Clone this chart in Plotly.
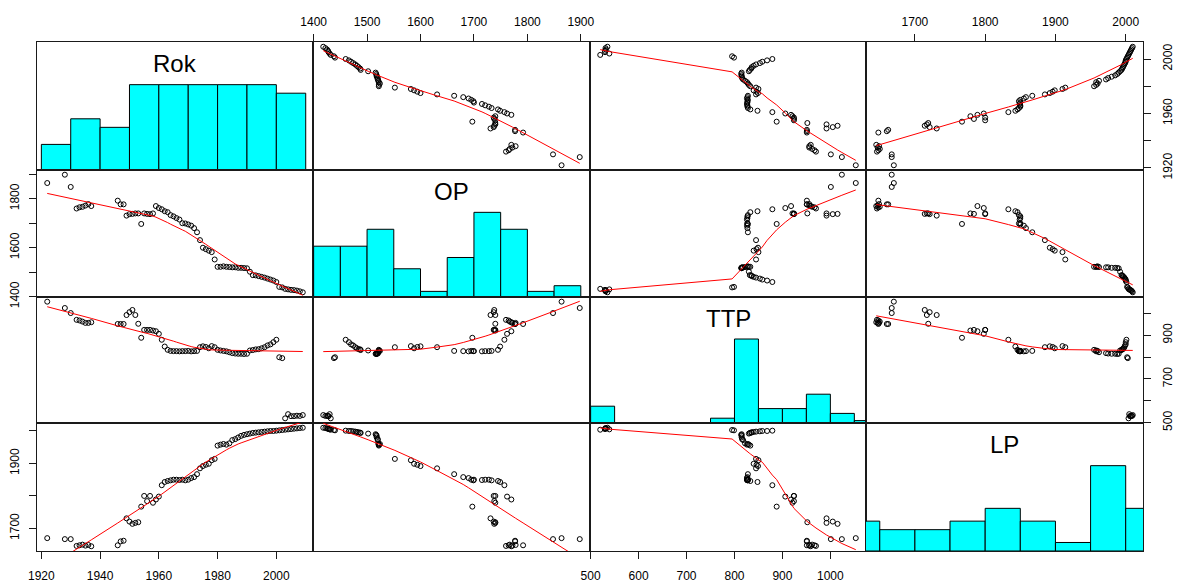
import numpy as np
import plotly.graph_objects as go

# ---------------- data ----------------
rok = [1922, 1928, 1930, 1932, 1933, 1934, 1935, 1936, 1937,
       1946, 1947, 1948, 1949, 1950, 1951, 1952, 1953, 1954, 1955, 1956, 1957, 1958, 1959,
       1960, 1961, 1962, 1963, 1964, 1965, 1966, 1967, 1968, 1969,
       1970, 1971, 1972, 1973, 1974, 1975, 1976, 1977, 1978, 1979,
       1980, 1981, 1982, 1983, 1984, 1985, 1986, 1987, 1988, 1989,
       1990, 1991, 1992, 1993, 1994, 1995, 1996, 1997, 1998, 1999,
       2000, 2001, 2002, 2003, 2004, 2005, 2006, 2007, 2008, 2009]
op = [1864, 1898, 1848, 1760, 1765, 1767, 1772, 1778, 1770,
      1792, 1777, 1777, 1731, 1737, 1738, 1740, 1740, 1697, 1740, 1738, 1737, 1740, 1770,
      1762, 1757, 1749, 1745, 1733, 1728, 1721, 1715, 1700, 1699,
      1695, 1690, 1680, 1663, 1631, 1600, 1594, 1588, 1582, 1552,
      1522, 1522, 1524, 1522, 1521, 1520, 1520, 1518, 1518, 1517,
      1516, 1502, 1488, 1487, 1484, 1481, 1478, 1474, 1470, 1466,
      1460, 1440, 1438, 1432, 1430, 1428, 1427, 1425, 1422, 1418]
ttp = [1053, 1024, 1001, 970, 967, 962, 956, 956, 959,
       951, 951, 951, 992, 1005, 1015, 992, 952, 888, 924, 924, 924, 921, 918,
       906, 879, 848, 833, 828, 827, 827, 826, 827, 827,
       828, 826, 827, 828, 845, 849, 846, 840, 850, 845,
       833, 830, 828, 826, 822, 818, 816, 815, 815, 814,
       815, 830, 832, 835, 836, 840, 845, 853, 858, 868,
       879, 799, 795, 520, 539, 530, 530, 532, 531, 535]
lp = [1670, 1667, 1667, 1646, 1648, 1650, 1647, 1649, 1645,
      1648, 1660, 1662, 1731, 1721, 1714, 1717, 1719, 1767, 1800, 1784, 1800, 1779, 1789,
      1798, 1833, 1843, 1846, 1848, 1850, 1850, 1849, 1850, 1848,
      1850, 1855, 1858, 1867, 1885, 1892, 1896, 1899, 1910, 1914,
      1955, 1958, 1960, 1958, 1962, 1972, 1975, 1980, 1985, 1988,
      1990, 1992, 1994, 1995, 1996, 1997, 1998, 1999, 2000, 2000,
      2001, 2002, 2003, 2004, 2005, 2006, 2007, 2008, 2009, 2010]

var_names = ["Rok", "OP", "TTP", "LP"]

# histogram breaks (R hist, right-closed bins)
rok_breaks = [1920, 1930, 1940, 1950, 1960, 1970, 1980, 1990, 2000, 2010]
op_breaks = [1400, 1450, 1500, 1550, 1600, 1650, 1700, 1750, 1800, 1850, 1900]
ttp_breaks = [500, 550, 600, 650, 700, 750, 800, 850, 900, 950, 1000, 1050, 1100]
lp_breaks = [1600, 1650, 1700, 1750, 1800, 1850, 1900, 1950, 2000, 2050]

# axis ticks and labels (labels on vertical axes are thinned as in R)
rok_ticks = [1920, 1940, 1960, 1980, 2000]
op_ticks = [1400, 1500, 1600, 1700, 1800, 1900]
ttp_ticks = [500, 600, 700, 800, 900, 1000]
lp_ticks = [1700, 1800, 1900, 2000]
rok_vlabels = [1920, 1960, 2000]
op_vlabels = [1400, 1600, 1800]
ttp_vlabels = [500, 700, 900]
lp_vlabels = [1700, 1900]

data = [np.array(rok, float), np.array(op, float), np.array(ttp, float), np.array(lp, float)]
breaks = [rok_breaks, op_breaks, ttp_breaks, lp_breaks]
ticks = [rok_ticks, op_ticks, ttp_ticks, lp_ticks]
vlabels = [rok_vlabels, op_vlabels, ttp_vlabels, lp_vlabels]


# ---------------- R lowess port ----------------
def lowess(xv, yv, f=2 / 3, nsteps=3):
    xv = np.asarray(xv, float)
    yv = np.asarray(yv, float)
    o = np.argsort(xv, kind="mergesort")
    xs_sorted = xv[o]
    n = len(xv)
    X = np.concatenate([[0.0], xs_sorted])
    Y = np.concatenate([[0.0], yv[o]])
    delta = 0.01 * (X[n] - X[1])
    ns = max(2, min(n, int(f * n + 1e-7)))
    ys = np.zeros(n + 1)
    rw = np.ones(n + 1)
    res = np.zeros(n + 1)

    def lowest(xs, nleft, nright, userw):
        rng = X[n] - X[1]
        h = max(xs - X[nleft], X[nright] - xs)
        h9 = 0.999 * h
        h1 = 0.001 * h
        w = np.zeros(n + 1)
        a = 0.0
        j = nleft
        while j <= n:
            w[j] = 0.0
            r = abs(X[j] - xs)
            if r <= h9:
                if r <= h1:
                    w[j] = 1.0
                else:
                    w[j] = (1 - (r / h) ** 3) ** 3
                if userw:
                    w[j] *= rw[j]
                a += w[j]
            elif X[j] > xs:
                break
            j += 1
        nrt = j - 1
        if a <= 0:
            return None
        sl = slice(nleft, nrt + 1)
        w[sl] /= a
        if h > 0:
            a = np.sum(w[sl] * X[sl])
            b = xs - a
            c = np.sum(w[sl] * (X[sl] - a) ** 2)
            if np.sqrt(c) > 0.001 * rng:
                b /= c
                w[sl] *= (b * (X[sl] - a) + 1)
        return np.sum(w[sl] * Y[sl])

    it = 1
    while it <= nsteps + 1:
        nleft, nright, last, i = 1, ns, 0, 1
        while True:
            if nright < n:
                d1 = X[i] - X[nleft]
                d2 = X[nright + 1] - X[i]
                if d1 > d2:
                    nleft += 1
                    nright += 1
                    continue
            v = lowest(X[i], nleft, nright, it > 1)
            ys[i] = Y[i] if v is None else v
            if last < i - 1:
                denom = X[i] - X[last]
                for j in range(last + 1, i):
                    alpha = (X[j] - X[last]) / denom
                    ys[j] = alpha * ys[i] + (1 - alpha) * ys[last]
            last = i
            cut = X[last] + delta
            i = last + 1
            while i <= n:
                if X[i] > cut:
                    break
                if X[i] == X[last]:
                    ys[i] = ys[last]
                    last = i
                i += 1
            i = max(last + 1, i - 1)
            if last >= n:
                break
        res[1:] = Y[1:] - ys[1:]
        sc = np.mean(np.abs(res[1:]))
        if it > nsteps:
            break
        r_abs = np.abs(res[1:])
        srt = np.sort(r_abs)
        m1 = n // 2
        if n % 2 == 0:
            cmad = 3 * (srt[m1] + srt[n - m1 - 1])
        else:
            cmad = 6 * srt[m1]
        if cmad < 1e-7 * sc:
            break
        c9, c1 = 0.999 * cmad, 0.001 * cmad
        rw[1:] = np.where(r_abs <= c1, 1.0,
                          np.where(r_abs <= c9, (1 - (r_abs / cmad) ** 2) ** 2, 0.0))
        it += 1
    return xs_sorted, ys[1:]


def hist_counts(v, br):
    br = np.asarray(br, float)
    idx = np.searchsorted(br, v, side="left") - 1
    idx[idx < 0] = 0
    return np.bincount(idx, minlength=len(br) - 1)[: len(br) - 1]


# ---------------- layout geometry ----------------
W, H = 1177, 582
FONT = "Liberation Sans, Arial, sans-serif"
xe = [37, 313, 590, 866, 1143]
ye = [42, 170, 297, 423, 551]

ranges = []
for v in data:
    lo, hi = v.min(), v.max()
    pad = 0.04 * (hi - lo)
    ranges.append([lo - pad, hi + pad])

fig = go.Figure()
layout = dict(width=W, height=H, margin=dict(l=0, r=0, t=0, b=0, autoexpand=False),
              paper_bgcolor="white", plot_bgcolor="white", showlegend=False,
              annotations=[])

tickfont = dict(family=FONT, size=12, color="black")
LINEC = "#1a1a1a"

for i in range(4):
    for j in range(4):
        n = i * 4 + j + 1
        xa = "x" if n == 1 else f"x{n}"
        ya = "y" if n == 1 else f"y{n}"
        xkey = "xaxis" if n == 1 else f"xaxis{n}"
        ykey = "yaxis" if n == 1 else f"yaxis{n}"
        xax = dict(domain=[xe[j] / W, xe[j + 1] / W], anchor=ya, range=ranges[j],
                   showgrid=False, zeroline=False, showline=True, mirror=True,
                   linecolor=LINEC, linewidth=1, ticks="", showticklabels=False,
                   fixedrange=True, automargin=False)
        yax = dict(domain=[1 - ye[i + 1] / H, 1 - ye[i] / H], anchor=xa,
                   range=ranges[i] if i != j else [0, 1.5],
                   showgrid=False, zeroline=False, showline=True, mirror=True,
                   linecolor=LINEC, linewidth=1, ticks="", showticklabels=False,
                   fixedrange=True, automargin=False)
        if i == 0 and j % 2 == 1:
            xax.update(side="top", ticks="outside", ticklen=7, tickwidth=1, tickcolor=LINEC,
                       tickvals=ticks[j], ticktext=[str(t) for t in ticks[j]],
                       showticklabels=True, tickfont=tickfont, ticklabelstandoff=3)
        if i == 3 and j % 2 == 0:
            xax.update(side="bottom", ticks="outside", ticklen=7, tickwidth=1, tickcolor=LINEC,
                       tickvals=ticks[j], ticktext=[str(t) for t in ticks[j]],
                       showticklabels=True, tickfont=tickfont, ticklabelstandoff=7)
        if j == 0 and i % 2 == 1:
            yax.update(side="left", ticks="outside", ticklen=7, tickwidth=1, tickcolor=LINEC,
                       tickvals=ticks[i],
                       ticktext=[str(t) if t in vlabels[i] else "" for t in ticks[i]],
                       showticklabels=True, tickfont=tickfont, tickangle=-90,
                       ticklabelstandoff=5)
        if j == 3 and i % 2 == 0:
            yax.update(side="right", ticks="outside", ticklen=7, tickwidth=1, tickcolor=LINEC,
                       tickvals=ticks[i],
                       ticktext=[str(t) if t in vlabels[i] else "" for t in ticks[i]],
                       showticklabels=True, tickfont=tickfont, tickangle=-90,
                       ticklabelstandoff=7)
        layout[xkey] = xax
        layout[ykey] = yax

        if i == j:
            br = np.asarray(breaks[i], float)
            cnt = hist_counts(data[i], br)
            hts = cnt / cnt.max()
            mids = (br[:-1] + br[1:]) / 2
            fig.add_trace(go.Bar(x=mids, y=hts, width=np.diff(br), xaxis=xa, yaxis=ya,
                                 marker=dict(color="#00FFFF", line=dict(color="black", width=1)),
                                 hoverinfo="skip"))
            layout["annotations"].append(dict(
                text=var_names[i], xref=f"{xa} domain", yref=f"{ya} domain",
                x=0.5, y=0.8333, xanchor="center", yanchor="middle", showarrow=False,
                font=dict(family=FONT, size=24, color="black")))
        else:
            fig.add_trace(go.Scatter(x=data[j], y=data[i], mode="markers", xaxis=xa, yaxis=ya,
                                     marker=dict(symbol="circle-open", size=5, color="black",
                                                 line=dict(width=1, color="black")),
                                     hoverinfo="skip"))
            lx, ly = lowess(data[j], data[i])
            fig.add_trace(go.Scatter(x=lx, y=ly, mode="lines", xaxis=xa, yaxis=ya,
                                     line=dict(color="red", width=1), hoverinfo="skip"))

layout["barmode"] = "overlay"
fig.update_layout(**layout)
fig.write_html("out.html")
